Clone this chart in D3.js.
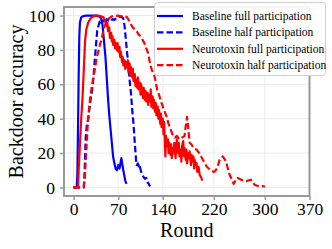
<!DOCTYPE html>
<html>
<head>
<meta charset="utf-8">
<script src="https://cdn.jsdelivr.net/npm/d3@7"></script>
<style>
  body { margin: 0; background: #fff; }
  text { font-family: "Liberation Serif", "Times New Roman", serif; fill: #000; }
</style>
</head>
<body>
<div id="chart"></div>
<script>

// ---- data ----

var xTicks = [0, 70, 140, 220, 300, 370];
var yTicks = [0, 20, 40, 60, 80, 100];

var seriesNames = [
  "Baseline full participation",
  "Baseline half participation",
  "Neurotoxin full participation",
  "Neurotoxin half participation"
];

// baseline, full participation
var baseFullRounds = [0, 3, 5, 6, 7, 8, 9, 10, 12, 15, 20, 25, 30, 35, 40, 43, 45, 47, 50, 52, 54, 56, 58, 60, 62, 64, 66, 68, 70, 72, 74, 75, 77, 79, 81, 83];
var baseFullAcc = [0, 0, 0, 8, 35, 65, 88, 96, 99, 99.7, 100, 100, 100, 100, 99.5, 98.5, 96, 88, 76, 64, 52, 42, 34, 26, 18, 14, 11, 10, 13, 11, 15, 17, 12, 8, 4, 2];

// baseline, half participation
var baseHalfRounds = [0, 10, 16, 17, 19, 21, 23, 25, 27, 29, 31, 33, 35, 37, 39, 41, 43, 45, 48, 50, 52, 55, 58, 61, 64, 67, 70, 73, 76, 78, 80, 82, 84, 86, 88, 90, 92, 94, 96, 98, 99, 101, 103, 104, 106, 108, 110, 112, 114, 116, 118, 120];
var baseHalfAcc = [0, 0, 0, 5, 29, 37, 40, 46, 52, 56, 63, 73, 82, 91, 94, 96.5, 95, 96.5, 97.5, 95.5, 98, 97, 96.5, 98, 97.5, 98.5, 99, 99.4, 99, 98.4, 94, 86, 78, 72, 62, 55, 45, 37, 26, 16, 13, 14, 11, 12, 9, 7, 6, 5, 5.5, 3, 2, 0.5];

// neurotoxin, full participation
var neuroFullRounds = [0, 4, 7, 8, 10, 12, 14, 16, 18, 20, 23, 27, 31, 35, 39, 43, 47, 50, 52, 53, 54, 56, 57, 59, 60, 61, 62, 64, 65, 66, 68, 69, 70, 72, 73, 74, 76, 77, 78, 80, 81, 82, 84, 85, 86, 88, 89, 90, 92, 93, 94, 96, 97, 98, 100, 101, 102, 104, 105, 106, 108, 109, 110, 112, 113, 114, 116, 117, 118, 120, 121, 122, 124, 125, 126, 128, 129, 130, 132, 133, 134, 136, 137, 138, 140, 141, 142, 144, 145, 146, 148, 149, 150, 152, 153, 154, 156, 157, 158, 160, 161, 162, 164, 165, 166, 168, 169, 170, 172, 173, 174, 176, 177, 178, 180, 181, 182, 184, 185, 186, 188, 189, 190, 192, 193, 194, 196, 198, 200, 202];
var neuroFullAcc = [0, 0, 0, 10, 25, 40, 52, 68, 85, 92, 96, 98.5, 99.5, 100, 100, 99.6, 99, 96, 94, 96, 91, 93, 87, 90, 85, 88, 83, 86, 81, 84, 80, 84, 79, 82, 76, 79, 73, 76, 71, 74, 69, 73, 70, 74, 67, 72, 65, 70, 64, 69, 62, 66, 59, 63, 58, 64, 57, 61, 54, 60, 56, 52, 58, 51, 56, 50, 55, 48, 54, 50, 57, 47, 53, 46, 51, 44, 49, 42, 47, 40, 45, 37, 43, 35, 40, 31, 38, 18, 30, 24, 28, 20, 26, 19, 25, 17, 23, 20, 26, 17, 24, 28, 20, 26, 18, 22, 15, 24, 27, 18, 23, 16, 22, 14, 20, 17, 21, 13, 19, 15, 18, 11, 16, 13, 14, 9, 12, 7, 6, 4];

// neurotoxin, half participation
var neuroHalfRounds = [0, 10, 16, 18, 20, 22, 24, 26, 28, 30, 32, 34, 36, 38, 40, 42, 44, 46, 48, 50, 53, 56, 60, 65, 70, 75, 80, 84, 87, 90, 93, 96, 99, 102, 105, 108, 111, 114, 117, 120, 123, 126, 128, 131, 134, 137, 140, 143, 146, 149, 152, 155, 159, 162, 166, 170, 174, 176, 178, 180, 182, 185, 188, 193, 197, 200, 203, 206, 209, 212, 215, 220, 223, 226, 229, 231, 234, 236, 239, 242, 245, 248, 251, 254, 257, 260, 263, 266, 270, 274, 278, 281, 284, 288, 292, 296, 300];
var neuroHalfAcc = [0, 0, 0, 8, 22, 35, 45, 52, 57, 62, 66, 70, 75, 78, 81, 84, 86, 90, 93, 95, 97, 98.5, 99.5, 99.8, 100, 99.6, 99.8, 99, 97, 95, 93, 92, 91, 89, 88, 86, 84, 81, 78, 72, 68, 66, 63, 57, 54, 50, 47, 44, 41, 37, 34, 31, 29, 30, 28, 29, 30, 36, 41, 34, 26, 25, 23, 22, 20, 18, 16, 14, 12, 11, 10, 9, 10, 12, 16, 17, 18, 17, 15, 11, 7, 5, 2, 4, 5.5, 5, 4.5, 4, 3.5, 4, 4.5, 3, 1.5, 1, 0.6, 0.8, 0.5];

// ---- layout ----

var svgWidth = 332;
var svgHeight = 249;

var margin = { top: 7, right: 22.5, bottom: 53, left: 64 };
var width = svgWidth - margin.left - margin.right;
var height = svgHeight - margin.top - margin.bottom;

var svg = d3.select("#chart")
  .append("svg")
  .attr("width", svgWidth)
  .attr("height", svgHeight);

var chartGroup = svg.append("g")
  .attr("transform", `translate(${margin.left}, ${margin.top})`);

// scales
var xScale = d3.scaleLinear().domain([-15, 370]).range([0, width]);
var yScale = d3.scaleLinear().domain([-5, 105]).range([height, 0]);

// grid
chartGroup.append("g")
  .selectAll("line")
  .data(xTicks)
  .enter()
  .append("line")
  .attr("x1", d => xScale(d))
  .attr("x2", d => xScale(d))
  .attr("y1", 0)
  .attr("y2", height)
  .attr("stroke", "#ebebeb")
  .attr("stroke-width", 1);

chartGroup.append("g")
  .selectAll("line")
  .data(yTicks)
  .enter()
  .append("line")
  .attr("x1", 0)
  .attr("x2", width)
  .attr("y1", d => yScale(d))
  .attr("y2", d => yScale(d))
  .attr("stroke", "#ebebeb")
  .attr("stroke-width", 1);

// axes
var bottomAxis = d3.axisBottom(xScale)
  .tickValues(xTicks)
  .tickSize(4)
  .tickPadding(3);

var leftAxis = d3.axisLeft(yScale)
  .tickValues(yTicks)
  .tickSize(4)
  .tickPadding(5);

var xAxis = chartGroup.append("g")
  .attr("transform", `translate(0, ${height})`)
  .call(bottomAxis);

var yAxis = chartGroup.append("g")
  .call(leftAxis);

[xAxis, yAxis].forEach(function(ax) {
  ax.select(".domain").remove();
  ax.selectAll(".tick line").attr("stroke", "#999").attr("stroke-width", 1.5);
  ax.selectAll(".tick text")
    .style("font-family", "'Liberation Serif', serif")
    .style("font-size", "17.5px")
    .attr("fill", "#000");
});

// series lines
var lineGen = d3.line()
  .x(d => xScale(d[0]))
  .y(d => yScale(d[1]));

var series = [
  { rounds: baseFullRounds, acc: baseFullAcc, color: "#0000ff", dash: null },
  { rounds: baseHalfRounds, acc: baseHalfAcc, color: "#0000ff", dash: "6.5,3" },
  { rounds: neuroFullRounds, acc: neuroFullAcc, color: "#ff0000", dash: null },
  { rounds: neuroHalfRounds, acc: neuroHalfAcc, color: "#ff0000", dash: "6.5,3" }
];

chartGroup.append("clipPath")
  .attr("id", "plotClip")
  .append("rect")
  .attr("width", width)
  .attr("height", height);

var linesGroup = chartGroup.append("g").attr("clip-path", "url(#plotClip)");

// blue first, red on top
series.forEach(function(s) {
  var pts = s.rounds.map((r, i) => [r, s.acc[i]]);
  linesGroup.append("path")
    .datum(pts)
    .attr("fill", "none")
    .attr("stroke", s.color)
    .attr("stroke-width", 2.2)
    .attr("stroke-linejoin", "round")
    .attr("stroke-dasharray", s.dash)
    .attr("d", lineGen);
});

// frame
chartGroup.append("rect")
  .attr("x", 0)
  .attr("y", 0)
  .attr("width", width)
  .attr("height", height)
  .attr("fill", "none")
  .attr("stroke", "#999")
  .attr("stroke-width", 2);

// axis titles
svg.append("text")
  .attr("x", margin.left + width / 2)
  .attr("y", 237)
  .attr("text-anchor", "middle")
  .style("font-size", "20px")
  .text("Round");

svg.append("text")
  .attr("transform", `translate(23, ${margin.top + height / 2}) rotate(-90)`)
  .attr("text-anchor", "middle")
  .style("font-size", "20px")
  .text("Backdoor accuracy");

// legend
var legend = svg.append("g");

legend.append("rect")
  .attr("x", 154.5)
  .attr("y", 2.5)
  .attr("width", 171)
  .attr("height", 73)
  .attr("rx", 3)
  .attr("fill", "#fff")
  .attr("fill-opacity", 0.9)
  .attr("stroke", "#d0d0d0")
  .attr("stroke-width", 1);

series.forEach(function(s, i) {
  var yPos = 16 + i * 16.4;
  legend.append("line")
    .attr("x1", 157)
    .attr("x2", 183)
    .attr("y1", yPos)
    .attr("y2", yPos)
    .attr("stroke", s.color)
    .attr("stroke-width", 2.2)
    .attr("stroke-dasharray", s.dash);
  legend.append("text")
    .attr("x", 192)
    .attr("y", yPos)
    .attr("dy", "0.35em")
    .style("font-size", "11.5px")
    .text(seriesNames[i]);
});

</script>
</body>
</html>
